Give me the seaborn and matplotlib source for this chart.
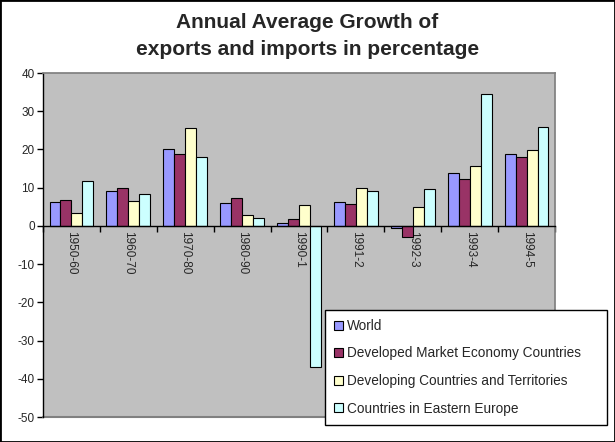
import numpy as np
import matplotlib
matplotlib.use("Agg")
import matplotlib.pyplot as plt
import seaborn as sns
import pandas as pd
from matplotlib.patches import Rectangle

# Data
periods = ["1950-60", "1960-70", "1970-80", "1980-90", "1990-1",
           "1991-2", "1992-3", "1993-4", "1994-5"]
series_names = ["World",
                "Developed Market Economy Countries",
                "Developing Countries and Territories",
                "Countries in Eastern Europe"]
world = [6.2, 9.1, 20.1, 5.9, 0.7, 6.2, -0.6, 13.8, 18.8]
developed = [6.7, 9.9, 18.8, 7.2, 1.7, 5.7, -3.0, 12.2, 18.0]
developing = [3.3, 6.5, 25.6, 2.8, 5.4, 9.9, 4.9, 15.6, 19.8]
eastern = [11.7, 8.3, 18.0, 2.0, -36.9, 9.1, 9.6, 34.5, 25.8]
colors = ["#9999FF", "#993366", "#FFFFCC", "#CCFFFF"]

rows = []
for name, vals in zip(series_names, [world, developed, developing, eastern]):
    for p, v in zip(periods, vals):
        rows.append({"period": p, "series": name, "value": v})
df = pd.DataFrame(rows)

sns.set_theme(style="white")
plt.rcParams["font.family"] = ["Liberation Sans", "DejaVu Sans"]
plt.rcParams["axes.unicode_minus"] = False

fig = plt.figure(figsize=(6.15, 4.42), dpi=100)
ax = fig.add_axes([43 / 615, 1 - 417 / 442, 512 / 615, 344 / 442])
ax.set_facecolor("#C0C0C0")

sns.barplot(data=df, x="period", y="value", hue="series", order=periods,
            hue_order=series_names, palette=colors, width=0.77,
            edgecolor="black", linewidth=0.8, saturation=1, ax=ax)

handles, labels = ax.get_legend_handles_labels()
ax.get_legend().remove()

ax.set_ylim(-50, 40)
ax.set_xlim(-0.5, len(periods) - 0.5)
ax.set_yticks(np.arange(-50, 41, 10))
ax.set_xlabel("")
ax.set_ylabel("")

# category axis sits on the zero line, ticks between categories
ax.spines["bottom"].set_position(("data", 0))
ax.spines["bottom"].set_color("black")
ax.spines["bottom"].set_linewidth(1)
ax.spines["left"].set_color("black")
ax.spines["left"].set_linewidth(1)
ax.spines["top"].set_color("#808080")
ax.spines["right"].set_color("#808080")
ax.axhline(-50, color="#808080", lw=1.5, clip_on=False)

ax.set_xticks(np.arange(-0.5, len(periods), 1))
ax.set_xticklabels([])
ax.set_xticks(np.arange(len(periods)), minor=True)
ax.set_xticklabels(periods, minor=True, rotation=270, fontsize=8.5)
ax.tick_params(axis="x", which="major", direction="out", length=4,
               width=1, color="black", bottom=True)
ax.tick_params(axis="x", which="minor", length=0, pad=4)
ax.tick_params(axis="y", direction="out", length=4, width=1, color="black",
               left=True, labelsize=8.5, pad=2)

fig.suptitle("Annual Average Growth of\nexports and imports in percentage",
             fontsize=15, fontweight="bold", y=1 - 13 / 442, linespacing=1.55)

leg = fig.legend(handles, labels, loc="upper left",
                 bbox_to_anchor=(325 / 615, 21 / 442, 282 / 615, 111 / 442),
                 mode="expand", borderaxespad=0, fontsize=9.8,
                 handlelength=0.65, handleheight=0.65, handletextpad=0.3,
                 labelspacing=1.0, borderpad=0.65, fancybox=False,
                 frameon=True, framealpha=1)
leg.get_frame().set_edgecolor("black")
leg.get_frame().set_linewidth(1)

fig.patches.append(Rectangle((0, 0), 1, 1, transform=fig.transFigure,
                             fill=False, edgecolor="black", lw=2))

fig.savefig("out.png", dpi=100)
